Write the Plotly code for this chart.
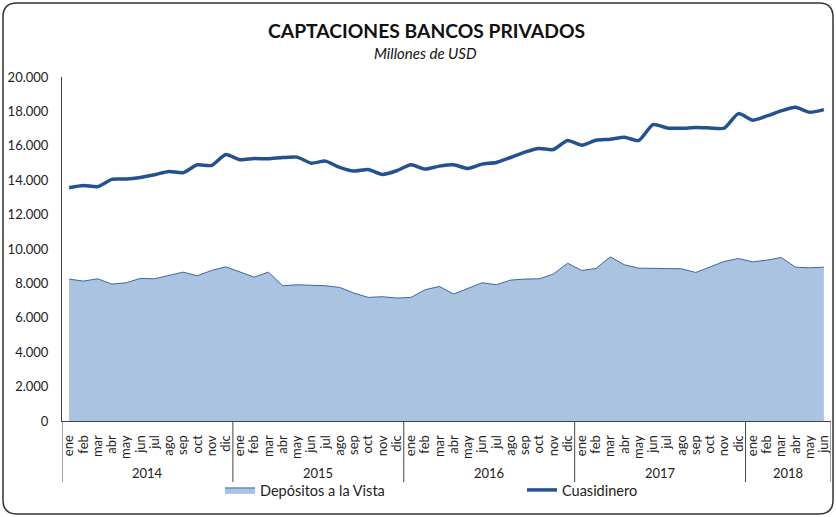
import plotly.graph_objects as go

months = ["ene","feb","mar","abr","may","jun","jul","ago","sep","oct","nov","dic"]
years_list = ["2014","2015","2016","2017","2018"]
month_labels = months * 4 + months[:6]
year_labels = [y for y in years_list[:4] for _ in range(12)] + ["2018"] * 6

depositos = [8250, 8134, 8269, 7960, 8037, 8288, 8269, 8481, 8655, 8443, 8752, 8964,
             8655, 8366, 8655, 7863, 7921, 7902, 7863, 7767, 7438, 7187, 7226, 7148,
             7187, 7631, 7825, 7380, 7709, 8037, 7921, 8192, 8250, 8269, 8539, 9177,
             8752, 8868, 9544, 9080, 8887, 8887, 8848, 8848, 8636, 8964, 9274, 9447,
             9254, 9351, 9505, 8945, 8906, 8945]

cuasidinero = [13563, 13698, 13621, 14046, 14065, 14161, 14316, 14509, 14432, 14896, 14857, 15495,
               15185, 15263, 15243, 15321, 15340, 14992, 15108, 14741, 14529, 14625, 14335, 14548,
               14896, 14645, 14818, 14896, 14683, 14934, 15031, 15321, 15630, 15842, 15784, 16306,
               16036, 16325, 16383, 16499, 16306, 17233, 17040, 17021, 17060, 17040, 17021, 17871,
               17485, 17736, 18026, 18238, 17948, 18103]

idx = list(range(len(month_labels)))
FONT = "Lato"
TXT = "#222222"

fig = go.Figure()
fig.add_trace(go.Scatter(
    x=idx, y=depositos, name="Depósitos a la Vista", mode="lines",
    fill="tozeroy", fillcolor="#A9C3E1",
    line=dict(color="#3C67A5", width=1),
))
fig.add_trace(go.Scatter(
    x=idx, y=cuasidinero, name="Cuasidinero", mode="lines",
    line=dict(color="#24518F", width=3.5, shape="spline", smoothing=0.6),
))

# Plot-area pixel geometry
L, R, T, B = 62, 831, 77, 421
W, H = R - L, B - T
def px(xp): return (xp - L) / W
def py(yp): return (B - yp) / H

x0, x1, y0, y1, r = 3, 833, 3, 514, 14
path = (f"M {px(x0+r)},{py(y0)} L {px(x1-r)},{py(y0)} Q {px(x1)},{py(y0)} {px(x1)},{py(y0+r)} "
        f"L {px(x1)},{py(y1-r)} Q {px(x1)},{py(y1)} {px(x1-r)},{py(y1)} "
        f"L {px(x0+r)},{py(y1)} Q {px(x0)},{py(y1)} {px(x0)},{py(y1-r)} "
        f"L {px(x0)},{py(y0+r)} Q {px(x0)},{py(y0)} {px(x0+r)},{py(y0)} Z")

shapes = [dict(type="path", xref="paper", yref="paper", path=path,
               line=dict(color="#333333", width=1.5), fillcolor="rgba(0,0,0,0)", layer="below")]
annotations = [
    dict(text="<b>CAPTACIONES BANCOS PRIVADOS</b>", xref="paper", yref="paper",
         x=px(426), y=py(31), xanchor="center", yanchor="middle", showarrow=False,
         font=dict(size=19.3, family=FONT, color="#111111")),
    dict(text="<i>Millones de USD</i>", xref="paper", yref="paper",
         x=px(425), y=py(53), xanchor="center", yanchor="middle", showarrow=False,
         font=dict(size=15, family=FONT, color="#111111")),
]

# Year group dividers and labels (from the year labels)
groups = []
for i, yl in enumerate(year_labels):
    if not groups or groups[-1][0] != yl:
        groups.append([yl, i, i])
    else:
        groups[-1][2] = i
bounds = [g[1] - 0.5 for g in groups] + [groups[-1][2] + 0.5]
for bx in bounds:
    shapes.append(dict(type="line", xref="x", yref="paper", x0=bx, x1=bx,
                       y0=0, y1=py(482), line=dict(color="#444444", width=1)))
for yl, a, b in groups:
    annotations.append(dict(text=yl, xref="x", yref="paper", x=(a + b) / 2, y=py(473),
                            xanchor="center", yanchor="middle", showarrow=False,
                            font=dict(size=13, family=FONT, color=TXT)))

fig.update_layout(
    width=836, height=517,
    margin=dict(l=L, r=836 - R, t=T, b=517 - B),
    paper_bgcolor="white", plot_bgcolor="white",
    separators=",.",
    font=dict(family=FONT, size=12, color=TXT),
    showlegend=True,
    legend=dict(orientation="h", x=px(220), xanchor="left", y=py(490), yanchor="middle",
                entrywidth=257, entrywidthmode="pixels",
                font=dict(size=14.5, family=FONT, color=TXT),
                bgcolor="rgba(0,0,0,0)"),
    shapes=shapes,
    annotations=annotations,
)
fig.update_yaxes(range=[0, 20000], dtick=2000, tickformat=",d", showgrid=False,
                 showline=True, linecolor="#444444", linewidth=1, ticks="",
                 automargin=False, ticklabelstandoff=10,
                 tickfont=dict(size=13, family=FONT, color=TXT), zeroline=False)
fig.update_xaxes(range=[-0.5, len(idx) - 0.5], tickmode="array", tickvals=idx,
                 ticktext=month_labels, showgrid=False, showline=True,
                 linecolor="#444444", linewidth=1, tickangle=-90, ticks="",
                 automargin=False, ticklabelstandoff=8, zeroline=False,
                 tickfont=dict(size=13, family=FONT, color=TXT))

fig.write_html("out.html", config={"displayModeBar": False},
               post_script="document.body.style.margin='0';document.body.style.overflow='hidden';")
